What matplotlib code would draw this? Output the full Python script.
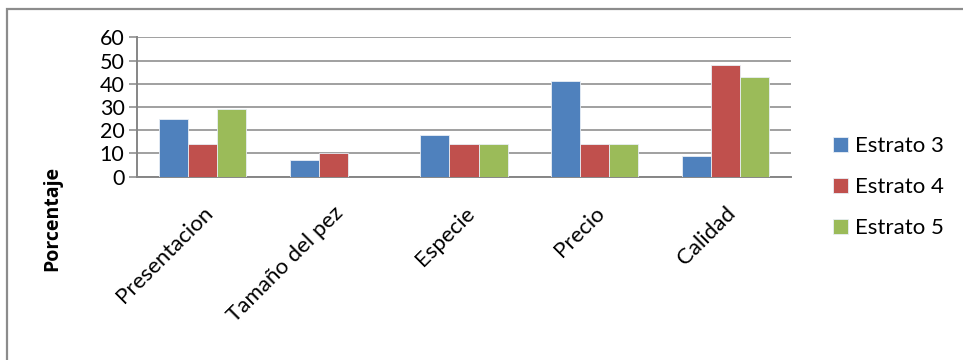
import matplotlib.pyplot as plt
import numpy as np
from matplotlib.patches import Rectangle

categorias = ["Presentacion", "Tamaño del pez", "Especie", "Precio", "Calidad"]
estrato_3 = [25, 7, 18, 41, 9]
estrato_4 = [14, 10, 14, 14, 48]
estrato_5 = [29, 0, 14, 14, 43]
series = ["Estrato 3", "Estrato 4", "Estrato 5"]
colores = ["#4F81BD", "#C0504D", "#9BBB59"]

plt.rcParams['font.family'] = ['Lato', 'DejaVu Sans']

fig = plt.figure(figsize=(9.63, 3.6), dpi=100)
ax = fig.add_axes([137/963, 1 - 176.7/360, 654/963, 139.4/360])

x = np.arange(len(categorias))
w = 0.222
for i, (vals, nombre, c) in enumerate(zip([estrato_3, estrato_4, estrato_5], series, colores)):
    ax.bar(x + (i - 1) * w, vals, w, color=c, edgecolor='#e8eef5', linewidth=0.6,
           label=nombre, zorder=3)

gris = '#868686'
ax.set_xlim(-0.5, len(categorias) - 0.5)
ax.set_ylim(0, 60)
ax.set_yticks(range(0, 61, 10))
ax.yaxis.grid(True, color=gris, linewidth=1.1, zorder=0)
ax.set_xticks(x)
ax.set_xticklabels(categorias, rotation=45, ha='right', rotation_mode='anchor', fontsize=16)
ax.tick_params(axis='x', length=0, pad=19)
ax.tick_params(axis='y', length=6, width=1.1, color=gris, labelsize=15.5, pad=3)
for s in ['top', 'right']:
    ax.spines[s].set_visible(False)
for s in ['left', 'bottom']:
    ax.spines[s].set_color(gris)
    ax.spines[s].set_linewidth(1.4)

fig.text(52/963, 1 - 218/360, "Porcentaje", rotation=90, ha='center', va='center',
         fontsize=14, fontweight='bold', family='Open Sans')

ax.legend(loc='center left', bbox_to_anchor=(822/963, 1 - 187/360),
          bbox_transform=fig.transFigure, frameon=False, fontsize=16,
          borderpad=0, labelspacing=0.95, handlelength=0.65, handleheight=0.65,
          handletextpad=0.35)

# outer chart border
fig.patches.append(Rectangle((7/963, -0.05), 1.0, 1 - 9/360 + 0.05, transform=fig.transFigure,
                             fill=False, edgecolor='#8c8c8c', linewidth=1.6))

fig.savefig("out.png", dpi=100)
